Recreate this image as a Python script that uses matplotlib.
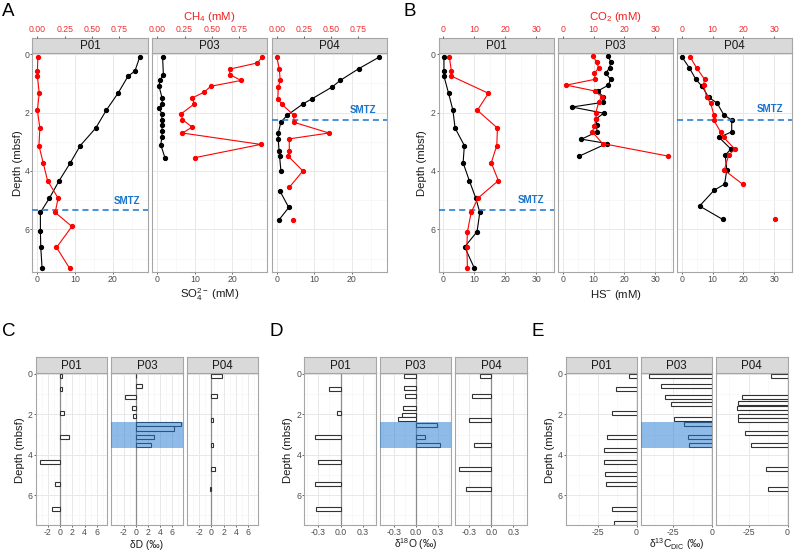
import matplotlib
matplotlib.use('Agg')
import matplotlib.pyplot as plt
import numpy as np

nan = np.nan
# ---------------- DATA ----------------
facets = ['P01', 'P03', 'P04']

# Panel A : sulfate (black) and methane (red)
A_P01_depth = [0.09, 0.58, 0.75, 1.34, 1.92, 2.53, 3.13, 3.72, 4.33, 4.93, 5.42, 6.05, 6.62, 7.33]
A_P01_so4 = [27.2, 25.9, 24.1, 21.4, 18.3, 15.5, 11.4, 8.75, 5.8, 3.2, 0.8, 0.8, 0.9, 1.25]
A_P01_ch4_depth = [0.09, 0.58, 0.75, 1.34, 1.92, 2.53, 3.13, 3.72, 4.33, 4.93, 5.42, 5.9, 6.62, 7.33]
A_P01_ch4 = [0.005, 0.0, 0.0, 0.017, 0.0, 0.023, 0.014, 0.053, 0.093, 0.19, 0.163, 0.316, 0.175, 0.295]

A_P03_depth = [0.11, 0.7, 0.89, 1.1, 1.5, 1.69, 1.86, 2.04, 2.24, 2.44, 2.63, 2.82, 3.1, 3.54]
A_P03_so4 = [1.4, 1.6, 0.7, 0.45, 1.25, 1.3, 0.5, 1.2, 1.2, 1.25, 1.25, 1.25, 0.9, 2.0]
A_P03_ch4_depth = [0.11, 0.3, 0.51, 0.7, 0.9, 1.1, 1.3, 1.5, 1.7, 2.04, 2.24, 2.5, 2.7, 3.09, 3.54]
A_P03_ch4 = [0.96, 0.92, 0.665, 0.665, 0.77, 0.49, 0.43, 0.32, 0.34, 0.22, 0.23, 0.32, 0.23, 0.95, 0.35]

A_P04_depth = [0.1, 0.5, 0.9, 1.12, 1.52, 1.71, 2.1, 2.33, 2.7, 2.9, 3.3, 3.49, 4.0, 4.55, 4.69, 5.25, 5.69]
A_P04_so4 = [27.3, 21.8, 16.9, 14.8, 9.5, 6.9, 2.7, 1.1, 0.4, 0.4, 0.6, 0.75, 1.1, nan, 0.85, 3.2, 0.5]
A_P04_ch4 = [0.0, 0.023, 0.032, 0.014, 0.01, 0.044, 0.16, 0.155, 0.48, 0.115, 0.115, 0.105, 0.24, 0.117, nan, nan, 0.15]

A_smtz = {'P01': 5.34, 'P04': 2.26}

# Panel B : sulfide (black) and CO2 (red)
B_P01_depth = [0.09, 0.58, 0.75, 1.34, 1.92, 2.53, 3.13, 3.72, 4.33, 4.93, 5.42, 6.08, 6.6, 7.32]
B_P01_hs = [0.2, 0.2, 0.2, 1.7, 3.1, 3.8, 6.8, 6.4, 8.4, 10.5, 11.8, 10.9, 6.9, 10.0]
B_P01_co2 = [1.95, 2.6, 2.6, 14.6, 11.0, 17.5, 17.3, 15.5, 17.8, 11.2, 9.0, 7.8, 7.6, 7.8]

B_P03_depth = [0.06, 0.27, 0.47, 0.65, 0.86, 1.06, 1.26, 1.45, 1.65, 1.81, 2.02, 2.21, 2.41, 2.66, 2.91, 3.06, 3.49]
B_P03_hs = [14.7, 15.6, 15.2, 13.9, 15.5, 14.8, 11.4, 13.0, 13.0, 3.0, 13.3, 10.9, 11.0, 11.1, 6.1, 14.3, 5.4]
B_P03_co2_depth = [0.06, 0.27, 0.47, 0.65, 0.86, 1.06, 1.26, 1.45, 1.65, 2.02, 2.21, 2.45, 2.66, 3.06, 3.49]
B_P03_co2 = [9.8, 11.0, 11.65, 10.3, 10.5, 1.2, 10.4, 12.6, 11.65, 10.7, 10.9, 10.3, 9.6, 12.9, 34.1]

B_P04_depth = [0.09, 0.47, 0.86, 1.1, 1.47, 1.68, 2.07, 2.26, 2.66, 2.85, 3.25, 3.46, 3.97, 4.45, 4.66, 5.2, 5.66]
B_P04_hs = [0.1, 2.5, 4.6, 6.6, 8.7, 11.5, 13.6, 16.2, 16.2, 12.1, 15.95, 14.1, 14.6, 13.9, 10.5, 5.8, 13.3]
B_P04_co2_depth = [0.09, 0.47, 0.86, 1.06, 1.47, 1.68, 2.07, 2.26, 2.66, 2.85, 3.25, 3.46, 3.97, 4.45, 5.2, 5.66]
B_P04_co2 = [2.7, 4.85, 7.4, 7.1, 8.1, 9.4, 10.4, 10.4, 12.6, 13.6, 17.2, 15.2, 13.8, 19.7, nan, 30.2]

B_smtz = {'P01': 5.34, 'P04': 2.26}

# Panel C : dD
C_P01_depth = [0.1, 0.74, 1.95, 3.13, 4.36, 5.45, 6.67]
C_P01 = [0.3, 0.3, 0.65, 1.5, -3.3, -0.8, -1.4]
C_P03_depth = [0.1, 0.6, 1.12, 1.7, 2.06, 2.49, 2.7, 3.1, 3.51]
C_P03 = [0.1, 1.1, -1.75, -0.6, -0.45, 7.5, 6.2, 2.95, 2.55]
C_P04_depth = [0.1, 1.09, 2.3, 3.51, 4.72, 5.71]
C_P04 = [1.7, 1.0, 0.2, 0.2, 0.65, -0.15]

# Panel D : d18O
D_P01_depth = [0.74, 1.95, 3.13, 4.36, 5.45, 6.67]
D_P01 = [-0.153, -0.045, -0.34, -0.30, -0.35, -0.33]
D_P03_depth = [0.1, 0.69, 1.1, 1.7, 2.03, 2.25, 2.51, 3.1, 3.53]
D_P03 = [-0.16, -0.16, -0.15, -0.18, -0.2, -0.25, 0.29, 0.12, 0.33]
D_P04_depth = [0.1, 1.09, 2.3, 3.51, 4.72, 5.71]
D_P04 = [-0.16, -0.26, -0.31, -0.235, -0.44, -0.34]

# Panel E : d13C-DIC
E_P01_depth = [0.1, 0.74, 1.95, 3.13, 3.75, 4.36, 4.95, 5.45, 6.67, 7.36]
E_P01 = [-4.7, -13.4, -16.2, -19.4, -20.9, -21.1, -20.5, -19.8, -16.2, -14.4]
E_P03_depth = [0.1, 0.6, 1.12, 1.5, 2.25, 2.49, 3.1, 3.51]
E_P03 = [-40.9, -32.9, -30.4, -26.4, -24.4, -17.8, -15.8, -14.7]
E_P04_depth = [0.1, 1.12, 1.45, 1.7, 2.06, 2.3, 2.9, 3.51, 4.72, 5.71]
E_P04 = [-10.4, -29.3, -31.7, -32.8, -32.0, -32.0, -27.4, -23.5, -13.9, -12.4]

smtz_band = (2.4, 3.65)

# ---------------- STYLE ----------------
plt.rcParams['font.family'] = ['Liberation Sans', 'DejaVu Sans']
plt.rcParams['mathtext.fontset'] = 'custom'
plt.rcParams['mathtext.rm'] = 'Liberation Sans'
plt.rcParams['mathtext.it'] = 'Liberation Sans:italic'
plt.rcParams['mathtext.bf'] = 'Liberation Sans:bold'

W, H = 794, 551
fig = plt.figure(figsize=(W / 100, H / 100), dpi=100)

GRID_MAJ = '#e8e8e8'
GRID_MIN = '#f3f3f3'
BORDER = '#a6a6a6'
TICKC = '#4d4d4d'
SMTZ_C = '#1874CD'
CH4_FACTOR = 29.0


def add_ax(x0, y0, x1, y1):
    return fig.add_axes([x0 / W, 1 - y1 / H, (x1 - x0) / W, (y1 - y0) / H])


def make_facet(x0, x1, y0, y1, sy0, name, xlim, ylim, xticks, xticklabels, xminor, show_y):
    ax = add_ax(x0, y0, x1, y1)
    ax.set_xlim(xlim)
    ax.set_ylim(ylim)
    ax.set_xticks(xticks)
    ax.set_xticklabels(xticklabels)
    ax.set_xticks(xminor, minor=True)
    ax.set_yticks([0, 2, 4, 6])
    ax.set_yticks([1, 3, 5, 7], minor=True)
    ax.grid(which='major', color=GRID_MAJ, lw=0.7)
    ax.grid(which='minor', color=GRID_MIN, lw=0.4)
    ax.set_axisbelow(True)
    ax.tick_params(which='minor', length=0)
    ax.tick_params(which='major', length=1.4, width=0.6, color=TICKC,
                   labelsize=6.3, labelcolor=TICKC, pad=0.8)
    if not show_y:
        ax.tick_params(axis='y', left=False, labelleft=False)
    for s in ax.spines.values():
        s.set_color(BORDER)
        s.set_linewidth(0.8)
    st = add_ax(x0, sy0, x1, y0)
    st.set_facecolor('#d9d9d9')
    st.set_xticks([])
    st.set_yticks([])
    for s in st.spines.values():
        s.set_color(BORDER)
        s.set_linewidth(0.8)
    st.text(0.5, 0.45, name, ha='center', va='center', fontsize=8.4,
            transform=st.transAxes, color='#1a1a1a')
    return ax


def add_top(ax, factor, ticks, labels, strip_h, panel_h):
    ax2 = ax.twiny()
    lo, hi = ax.get_xlim()
    ax2.set_xlim(lo / factor, hi / factor)
    ax2.spines['top'].set_position(('axes', 1 + strip_h / panel_h))
    for s in ax2.spines.values():
        s.set_visible(False)
    ax2.set_xticks(ticks)
    ax2.set_xticklabels(labels)
    ax2.tick_params(axis='x', length=1.8, width=0.6, color=TICKC,
                    labelsize=6.3, labelcolor='#f03030', pad=1.0)
    ax2.grid(False)
    return ax2


def profile(ax, x, y, color):
    ax.plot(x, y, color=color, lw=0.8, marker='o', ms=2.8, mec=color, mfc=color, zorder=3)


def smtz(ax, depth, tx, ty):
    ax.axhline(depth, color=SMTZ_C, lw=1.1, ls=(0, (4, 2.6)), zorder=4)
    ax.text(tx, ty, 'SMTZ', color=SMTZ_C, fontsize=7, fontweight='bold',
            ha='center', va='center', zorder=5)


# ---------------- PANEL A ----------------
A_x = [(32.3, 147.7), (152.3, 267.3), (271.7, 386.7)]
PY0, PY1, SY0 = 53.3, 272.3, 38.0
A_depths = [A_P01_depth, A_P03_depth, A_P04_depth]
A_so4 = [A_P01_so4, A_P03_so4, A_P04_so4]
A_ch4_d = [A_P01_ch4_depth, A_P03_ch4_depth, A_P04_depth]
A_ch4 = [A_P01_ch4, A_P03_ch4, A_P04_ch4]
A_smtz_txt = {'P01': (23.8, 5.03), 'P04': (23.0, 1.92)}
for i, name in enumerate(facets):
    x0, x1 = A_x[i]
    ax = make_facet(x0, x1, PY0, PY1, SY0, name, (-1.35, 29.3), (7.47, -0.03),
                    [0, 10, 20], ['0', '10', '20'], [5, 15, 25], i == 0)
    profile(ax, A_so4[i], A_depths[i], 'black')
    if name in A_smtz:
        smtz(ax, A_smtz[name], *A_smtz_txt[name])
    ax2 = add_top(ax, CH4_FACTOR, [0, 0.25, 0.5, 0.75], ['0.00', '0.25', '0.50', '0.75'],
                  PY0 - SY0, PY1 - PY0)
    profile(ax2, A_ch4[i], A_ch4_d[i], 'red')

# ---------------- PANEL B ----------------
B_x = [(439.0, 554.0), (558.3, 673.3), (677.3, 792.3)]
B_depths = [B_P01_depth, B_P03_depth, B_P04_depth]
B_hs = [B_P01_hs, B_P03_hs, B_P04_hs]
B_co2_d = [B_P01_depth, B_P03_co2_depth, B_P04_co2_depth]
B_co2 = [B_P01_co2, B_P03_co2, B_P04_co2]
B_smtz_txt = {'P01': (28.4, 5.0), 'P04': (28.5, 1.88)}
for i, name in enumerate(facets):
    x0, x1 = B_x[i]
    ax = make_facet(x0, x1, PY0, PY1, SY0, name, (-1.4, 35.8), (7.47, -0.03),
                    [0, 10, 20, 30], ['0', '10', '20', '30'], [5, 15, 25, 35], i == 0)
    profile(ax, B_hs[i], B_depths[i], 'black')
    if name in B_smtz:
        smtz(ax, B_smtz[name], *B_smtz_txt[name])
    ax2 = add_top(ax, 1.0, [0, 10, 20, 30], ['0', '10', '20', '30'],
                  PY0 - SY0, PY1 - PY0)
    profile(ax2, B_co2[i], B_co2_d[i], 'red')

# ---------------- PANELS C, D, E ----------------
CY0, CY1, CSY0 = 373.3, 524.5, 357.3


def bar_panel(xs, depths, values, xlim, xticks, xticklabels, xminor):
    for i, name in enumerate(facets):
        x0, x1 = xs[i]
        ax = make_facet(x0, x1, CY0, CY1, CSY0, name, xlim, (7.45, -0.03),
                        xticks, xticklabels, xminor, i == 0)
        ax.axvline(0, color='#8c8c8c', lw=0.9, zorder=1.5)
        ax.barh(depths[i], values[i], height=0.2, color='white',
                edgecolor='#333333', lw=0.8, zorder=2)
        if name == 'P03':
            ax.axhspan(smtz_band[0], smtz_band[1], color='#1f78d1', alpha=0.5, lw=0, zorder=3)


bar_panel([(35.7, 107.3), (111.3, 182.7), (187.0, 258.3)],
          [C_P01_depth, C_P03_depth, C_P04_depth], [C_P01, C_P03, C_P04],
          (-4.0, 7.7), [-2, 0, 2, 4, 6], ['-2', '0', '2', '4', '6'], [-3, -1, 1, 3, 5, 7])
bar_panel([(304.3, 376.0), (380.3, 451.3), (455.3, 526.7)],
          [D_P01_depth, D_P03_depth, D_P04_depth], [D_P01, D_P03, D_P04],
          (-0.49, 0.48), [-0.3, 0.0, 0.3], ['-0.3', '0.0', '0.3'], [-0.45, -0.15, 0.15, 0.45])
bar_panel([(565.7, 636.7), (640.7, 712.3), (716.0, 787.7)],
          [E_P01_depth, E_P03_depth, E_P04_depth], [E_P01, E_P03, E_P04],
          (-46.0, 0.1), [-25, 0], ['-25', '0'], [-37.5, -12.5])

# ---------------- TEXT ----------------
def ftext(x, y, s, va='center', **kw):
    fig.text(x / W, 1 - y / H, s, ha='center', va=va, **kw)

for lab, (x, y) in {'A': (8, 11), 'B': (410, 11), 'C': (9, 331), 'D': (276, 331), 'E': (538, 331)}.items():
    ftext(x, y, lab, fontsize=13.5)

ftext(209.5, 17, r'CH$_4$ (mM)', fontsize=8.2, color='#f02020')
ftext(209.5, 295, r'SO$_4^{2-}$ (mM)', fontsize=8.2, color='#1a1a1a')
ftext(18, 163, 'Depth (mbsf)', fontsize=8.2, rotation=90, color='#1a1a1a')

ftext(615.7, 17, r'CO$_2$ (mM)', fontsize=8.2, color='#f02020')
ftext(615.7, 295, r'HS$^{-}$ (mM)', fontsize=8.2, color='#1a1a1a')
ftext(422.5, 163, 'Depth (mbsf)', fontsize=8.2, rotation=90, color='#1a1a1a')

ftext(20, 449.7, 'Depth (mbsf)', fontsize=8.2, rotation=90, color='#1a1a1a')
ftext(147, 548.3, 'δD (‰)', va='baseline', fontsize=7.4, color='#1a1a1a')
ftext(288, 449.7, 'Depth (mbsf)', fontsize=8.2, rotation=90, color='#1a1a1a')
ftext(415.5, 548.3, r'δ$^{18}$O (‰)', va='baseline', fontsize=7.4, color='#1a1a1a')
ftext(550, 449.7, 'Depth (mbsf)', fontsize=8.2, rotation=90, color='#1a1a1a')
ftext(676.7, 548.3, r'δ$^{13}$C$_{\mathrm{DIC}}$ (‰)', va='baseline', fontsize=7.4, color='#1a1a1a')

fig.savefig('out.png', dpi=100, facecolor='white')
